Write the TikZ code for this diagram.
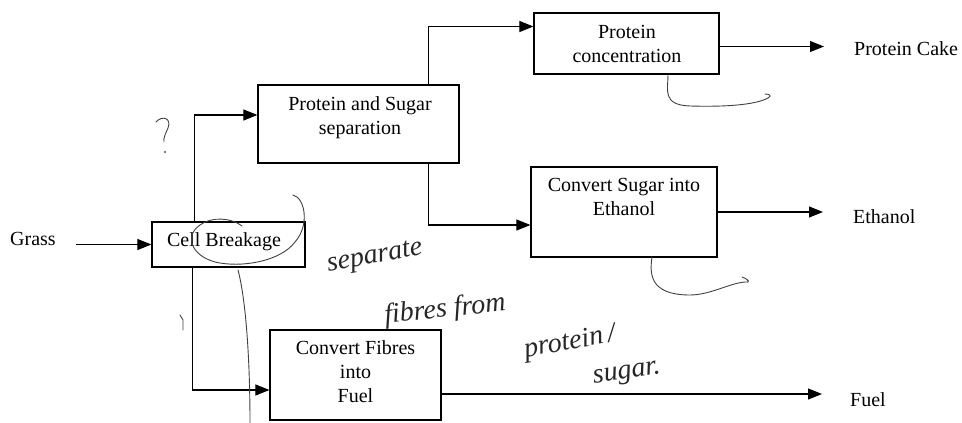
\documentclass[tikz,border=0pt]{standalone}
\usepackage{fontspec}
\setmainfont{Liberation Serif}
\usetikzlibrary{arrows.meta}
\begin{document}
\begin{tikzpicture}[x=1pt,y=-1pt,
  every node/.style={font=\fontsize{20}{24}\selectfont},
  box/.style={draw,line width=1.2pt,inner sep=0pt},
  lbl/.style={align=center,inner sep=0pt},
  outtxt/.style={anchor=west,inner sep=0pt},
  arr/.style={line width=1.1pt,-{Triangle[length=14pt,width=11pt]}},
  hand/.style={line width=0.9pt,color=black!75,line cap=round},
  handtxt/.style={font=\fontsize{28}{30}\selectfont\itshape,color=black!85,inner sep=0pt}]
\useasboundingbox (0,0) rectangle (962,423);
% boxes
\node[box,minimum width=153pt,minimum height=45pt] (cell) at (228.5,244.5) {};
\node[lbl] (cellT) at (224,242) {Cell Breakage};
\node[box,minimum width=201pt,minimum height=78pt] (ps) at (358.5,124) {};
\node[lbl] (psT) at (360,118) {Protein and Sugar\\separation};
\node[box,minimum width=185pt,minimum height=61pt] (pc) at (626.5,43.5) {};
\node[lbl] (pcT) at (627,44) {Protein\\concentration};
\node[box,minimum width=186pt,minimum height=90pt] (cs) at (624,212) {};
\node[lbl] (csT) at (624,197) {Convert Sugar into\\Ethanol};
\node[box,minimum width=171pt,minimum height=90pt] (fib) at (355.5,375) {};
\node[lbl] (fibT) at (355.5,372) {Convert Fibres\\into\\Fuel};
% outside texts
\node[outtxt] (grass) at (10,239) {Grass};
\node[outtxt] (cake) at (854,49) {Protein Cake};
\node[outtxt] (eth) at (853,217) {Ethanol};
\node[outtxt] (fuel) at (850,400) {Fuel};
% connectors
\draw[arr,shorten <=20pt] (grass.east |- cell.west) -- (cell.west);
\draw[arr] ([xshift=43pt]cell.north west) |- ([yshift=9pt]ps.west);
\draw[arr] ([xshift=41pt]cell.south west) |- ([yshift=-15pt]fib.west);
\draw[arr] ([xshift=-31pt]ps.north east) |- ([yshift=17pt]pc.west);
\draw[arr] ([xshift=-31pt]ps.south east) |- ([yshift=-13pt]cs.west);
\draw[arr,shorten >=30pt] ([yshift=-3pt]pc.east) -- ([yshift=-3pt]pc.east -| cake.west);
\draw[arr,shorten >=30pt] (cs.east) -- (cs.east -| eth.west);
\draw[arr,shorten >=28pt] ([yshift=-19pt]fib.east) -- ([yshift=-19pt]fib.east -| fuel.west);
% handwritten marks
\draw[hand] (156,122) .. controls (162,115) and (172,118) .. (168,128) .. controls (166,133) and (163,138) .. (164,142);
\fill[black!70] (165,152) circle (1.2pt);
\draw[hand] (180,315) -- (183,320) -- (183,330);
\draw[hand] (293,195) .. controls (305,198) and (310,225) .. (295,242)
  .. controls (280,262) and (240,268) .. (215,262)
  .. controls (190,255) and (185,235) .. (200,225)
  .. controls (212,216) and (232,218) .. (242,226);
\draw[hand] (238,270) .. controls (246,300) and (250,360) .. (250,423);
\draw[hand] (668,75) .. controls (668,90) and (662,105) .. (690,106)
  .. controls (725,107) and (755,105) .. (768,98) .. controls (772,96) and (770,94) .. (765,94);
\draw[hand] (652,257) .. controls (650,272) and (648,295) .. (690,295)
  .. controls (710,295) and (730,283) .. (745,282) .. controls (750,283) and (750,280) .. (742,277);
\node[handtxt,rotate=10] (h1) at (375,258) {separate};
\node[handtxt,rotate=6] (h2) at (445,310) {fibres from};
\node[handtxt,rotate=10] (h3) at (570,343) {protein\,/};
\node[handtxt,rotate=8] (h4) at (627,375) {sugar.};
\end{tikzpicture}
\end{document}
